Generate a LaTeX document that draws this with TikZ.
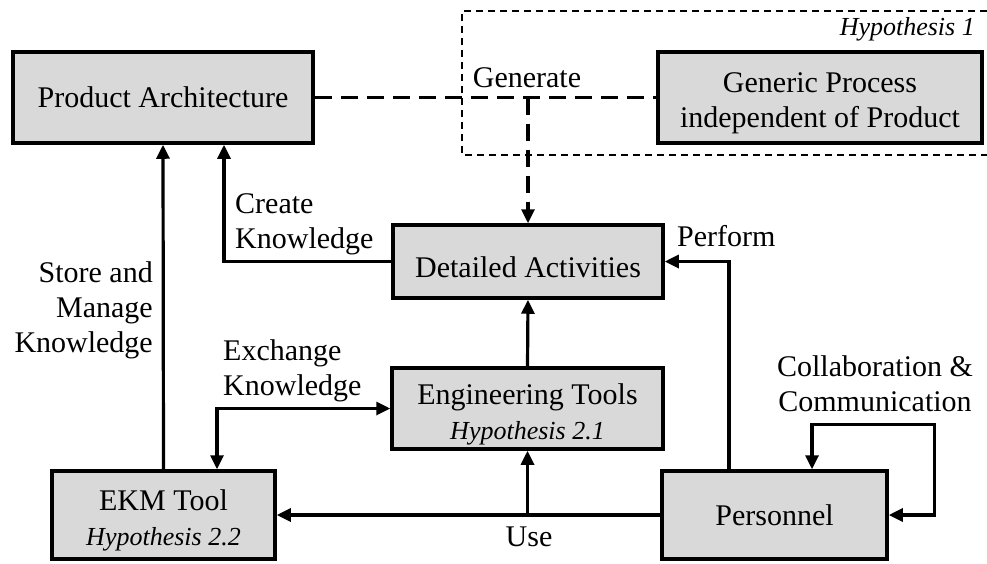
\documentclass[tikz,border=0pt]{standalone}
\usepackage{fontspec}
\setmainfont{Liberation Serif}
\usetikzlibrary{arrows.meta}
\definecolor{boxgray}{RGB}{217,217,217}
% strut that lowers a block's text a little inside its frame
\newcommand{\toppad}{\rule{0pt}{32pt}}
\begin{document}
\begin{tikzpicture}[x=1pt,y=-1pt,
  txt/.style={font=\fontsize{30}{35}\selectfont, inner sep=0pt},
  hyp/.style={font=\fontsize{26}{30}\selectfont\itshape},
  block/.style={draw=black, line width=3.5pt, fill=boxgray, inner sep=0pt,
    align=center, font=\fontsize{30}{35}\selectfont},
  conn/.style={draw=black, line width=3.2pt},
  tip/.style={-{Triangle[length=14pt,width=13pt]}},
  twotip/.style={{Triangle[length=14pt,width=13pt]}-{Triangle[length=14pt,width=13pt]}},
  dconn/.style={conn, dash pattern=on 17pt off 9pt},
  hframe/.style={draw=black, line width=1.3pt, dash pattern=on 7pt off 5pt}
]
\useasboundingbox (0,0) rectangle (987,563);

% scope of hypothesis 1
\draw[hframe] (987,11) -- (462,11) -- (462,155) -- (987,155);
\node[txt, hyp, anchor=base east] (h1) at (975,35) {Hypothesis 1};

% blocks
\node[block, minimum width=300pt, minimum height=91pt] (pa) at (163,97.5) {Product Architecture};
\node[block, minimum width=324pt, minimum height=91pt] (gp) at (820,97.5)
  {\toppad Generic Process\\independent of Product};
\node[block, minimum width=270pt, minimum height=73pt] (da) at (528,261.5) {\toppad Detailed Activities};
\node[block, minimum width=271pt, minimum height=81pt] (et) at (527.5,408.5)
  {\toppad Engineering Tools\\{\fontsize{26}{30}\selectfont\itshape Hypothesis 2.1}};
\node[block, minimum width=223pt, minimum height=88pt] (ekm) at (163.5,515)
  {\toppad EKM Tool\\{\fontsize{26}{30}\selectfont\itshape Hypothesis 2.2}};
\node[block, minimum width=225pt, minimum height=88pt] (pers) at (774.5,515) {Personnel};

% dashed generation links
\coordinate (gj) at (da.north |- pa.east);
\draw[dconn] (pa.east) -- (gp.west);
\draw[dconn, tip] (gj) -- (da.north);

% solid connectors
\draw[conn, tip] (da.west) -| ([xshift=61pt]pa.south);
\draw[conn, tip] (ekm.north) -- (pa.south);
\draw[conn, tip] (et.north) -- (da.south);
\draw[conn, twotip] (et.west) -| ([xshift=53.5pt]ekm.north);
\coordinate (uj) at (et.south |- pers.west);
\draw[conn, tip] (pers.west) -- (ekm.east);
\draw[conn, tip] (uj) -- (et.south);
\draw[conn, tip] ([xshift=-45.5pt]pers.north) |- (da.east);
\coordinate (lc) at ([xshift=46pt,yshift=45pt]pers.north east);
\draw[conn, twotip] (pers.east) -| (lc) -| ([xshift=37.5pt]pers.north);

% labels (base anchor sits on the last line)
\node[txt, anchor=base] (lgen) at (527,87) {Generate};
\node[txt, align=left, anchor=base west] (lcreate) at (235,248) {Create\\Knowledge};
\node[txt, align=right, anchor=base east] (lstore) at (153,352) {Store and\\Manage\\Knowledge};
\node[txt, align=left, anchor=base west] (lexch) at (223,395) {Exchange\\Knowledge};
\node[txt, anchor=base west] (lperf) at (677,246) {Perform};
\node[txt, anchor=base] (luse) at (529,546) {Use};
\node[txt, align=center, anchor=base] (lcoll) at (875,411) {Collaboration \&\\Communication};
\end{tikzpicture}
\end{document}
